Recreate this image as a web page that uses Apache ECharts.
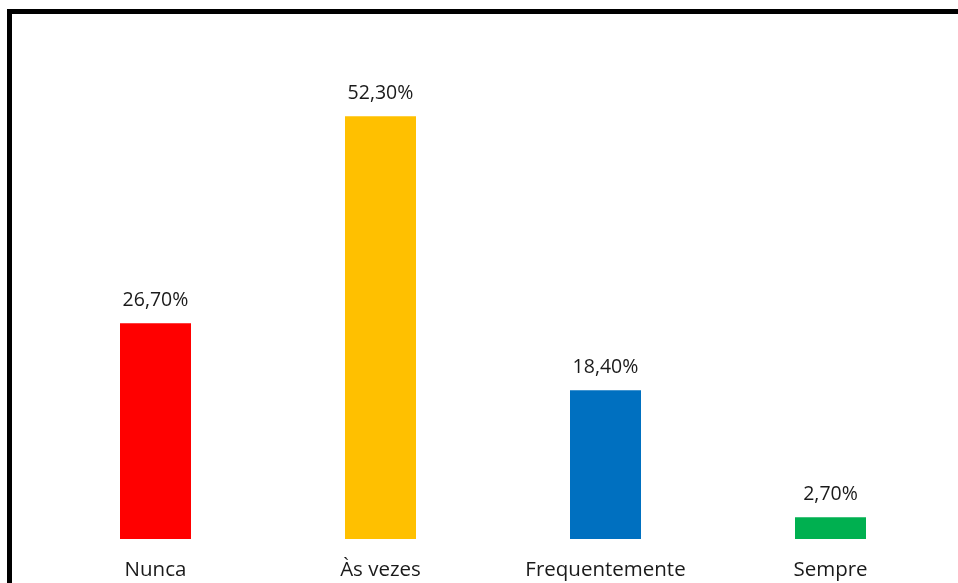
<!DOCTYPE html>
<html>
<head>
<meta charset="utf-8">
<script src="https://cdn.jsdelivr.net/npm/echarts@6/dist/echarts.min.js"></script>
<style>
  html, body { margin: 0; padding: 0; background: #fff; }
  #chart { width: 958px; height: 583px; }
</style>
</head>
<body>
<div id="chart"></div>
<script>
  // categorias e percentuais
  var categorias = ['Nunca', 'Às vezes', 'Frequentemente', 'Sempre'];
  var valores = [26.7, 52.3, 18.4, 2.7];
  var cores = ['#FF0000', '#FFC000', '#0070C0', '#00B050'];

  var myChart = echarts.init(document.getElementById('chart'));

  var option = {
    animation: false,
    textStyle: { fontFamily: 'Open Sans' },
    graphic: [{
      type: 'rect',
      shape: { x: 9.5, y: 11.5, width: 1000, height: 700 },
      style: { fill: 'none', stroke: '#000', lineWidth: 5 },
      silent: true
    }],
    grid: { left: 43, right: 15, top: 54, bottom: 44 },
    xAxis: {
      type: 'category',
      data: categorias,
      axisLine: { show: false },
      axisTick: { show: false },
      axisLabel: { color: '#1a1a1a', fontSize: 20.5, margin: 21 }
    },
    yAxis: {
      type: 'value',
      min: 0,
      max: 60,
      show: false,
      splitLine: { show: false }
    },
    series: [{
      type: 'bar',
      barWidth: 71,
      data: valores.map(function (v, i) {
        return { value: v, itemStyle: { color: cores[i] } };
      }),
      label: {
        show: true,
        position: 'top',
        distance: 13,
        color: '#1a1a1a',
        fontSize: 19.5,
        formatter: function (p) {
          return p.value.toFixed(2).replace('.', ',') + '%';
        }
      }
    }]
  };
  myChart.setOption(option);
</script>
</body>
</html>
